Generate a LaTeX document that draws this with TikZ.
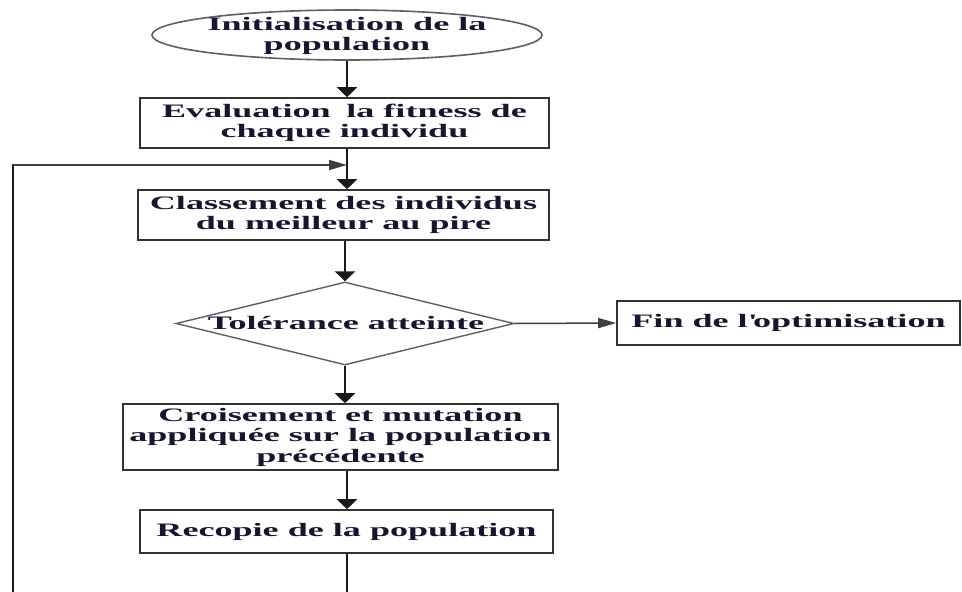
\documentclass[tikz,border=0pt]{standalone}
\usepackage{fontspec}
\setmainfont{Liberation Serif}[FakeStretch=1.9]
\usetikzlibrary{shapes.geometric,arrows.meta}
\definecolor{ink}{RGB}{22,22,48}
\definecolor{frame}{RGB}{50,50,50}
\definecolor{soft}{RGB}{95,95,95}
\begin{document}
\begin{tikzpicture}[x=1pt,y=-1pt,
  every node/.style={font=\fontsize{19}{20.5}\selectfont\bfseries, text=ink, align=center},
  stepbox/.style={draw=frame, line width=1.6pt, rectangle, inner sep=1pt},
  startshape/.style={draw=soft, line width=1.6pt, ellipse, inner sep=0pt},
  testshape/.style={draw=soft, line width=1.4pt, diamond, inner sep=0pt},
  vline/.style={draw=black!90, line width=2.6pt},
  hline/.style={draw=black!75, line width=1.5pt},
  varrow/.style={vline, -{Triangle[length=10pt,width=20pt]}},
  harrow/.style={hline, -{Triangle[length=18pt,width=10pt]}}
]
\useasboundingbox (0,0) rectangle (962,592);
\fill[white] (0,0) rectangle (962,592);

% shapes
\node[startshape, minimum width=390pt, minimum height=50pt] (init) at (347,35) {};
\node (initT) at (347,36) {Initialisation de la\\population};

\node[stepbox, minimum width=409pt, minimum height=50pt] (eval) at (344.5,123)
  {Evaluation\hspace{0.35em} la fitness de\\chaque individu};

\node[stepbox, minimum width=411pt, minimum height=50pt] (classe) at (343.5,215)
  {Classement des individus\\du meilleur au pire};

\node[testshape, minimum width=338pt, minimum height=83pt] (tol) at (345,323.5) {};
\node (tolT) at (346,323) {Tolérance atteinte};

\node[stepbox, minimum width=343pt, minimum height=44pt] (fin) at (788.5,323)
  {Fin de l\textquotesingle optimisation};

\node[stepbox, minimum width=435pt, minimum height=66pt] (cross) at (340.5,437)
  {Croisement et mutation\\appliquée sur la population\\précédente};

\node[stepbox, minimum width=413pt, minimum height=43pt] (recop) at (346.5,531.5)
  {Recopie de la population};

% spine and loop points
\coordinate (j) at (347,165);
\coordinate (lb) at (13,592);
\coordinate (rb) at (347,592);

% connectors
\draw[varrow] (init.south -| j) -- (eval.north -| j);
\draw[varrow] (eval.south -| j) -- (classe.north -| j);
\draw[harrow] (lb) |- (j);
\draw[vline] (lb) -- (13,165);
\draw[varrow] (classe.south -| tol.north) -- (tol.north);
\draw[harrow] (tol.east) -- (fin.west);
\draw[varrow] (tol.south) -- (cross.north -| tol.south);
\draw[varrow] (cross.south -| j) -- (recop.north -| j);
\draw[vline] (recop.south -| j) -- (rb);
\end{tikzpicture}
\end{document}
